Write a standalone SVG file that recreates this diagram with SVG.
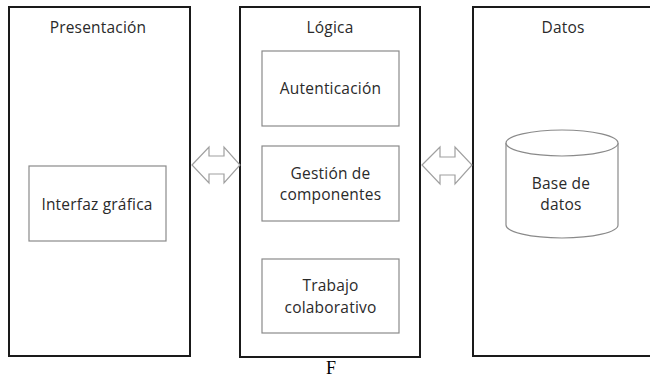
<svg xmlns="http://www.w3.org/2000/svg" width="650" height="379" viewBox="0 0 650 379">
<style>
.outer{fill:#fff;stroke:#1a1a1a;stroke-width:2}
.inner{fill:#fff;stroke:#8a8a8a;stroke-width:1.2}
.arrow{fill:#fff;stroke:#a0a0a0;stroke-width:1.2;stroke-linejoin:miter}
.t{font-family:"Open Sans","Liberation Sans",sans-serif;font-size:15.5px;letter-spacing:0.2px;fill:#2a2a2a;text-anchor:middle}
.f{font-family:"Liberation Serif",serif;font-size:18px;fill:#000;text-anchor:middle}
</style>
<rect width="650" height="379" fill="#fff"/>
<g id="presentacion">
<rect class="outer" x="9" y="7" width="181" height="349"/>
<text class="t" x="98" y="33">Presentación</text>
</g>
<g id="interfaz">
<rect class="inner" x="29" y="166" width="137" height="75"/>
<text class="t" x="97" y="210">Interfaz gráfica</text>
</g>
<g id="logica">
<rect class="outer" x="240" y="7" width="180" height="350"/>
<text class="t" x="330" y="33">Lógica</text>
</g>
<g id="autenticacion">
<rect class="inner" x="262" y="51" width="137" height="75"/>
<text class="t" x="330.5" y="94">Autenticación</text>
</g>
<g id="gestion">
<rect class="inner" x="262" y="146" width="137" height="75"/>
<text class="t" x="330.5" y="179">Gestión de</text>
<text class="t" x="330.5" y="200">componentes</text>
</g>
<g id="trabajo">
<rect class="inner" x="262" y="259" width="137" height="74"/>
<text class="t" x="330.5" y="291">Trabajo</text>
<text class="t" x="330.5" y="313">colaborativo</text>
</g>
<g id="datos">
<rect class="outer" x="473" y="7" width="182" height="349"/>
<text class="t" x="563" y="33">Datos</text>
</g>
<g id="basedatos">
<path class="inner" d="M506,143 L506,225 A56,13 0 0 0 618,225 L618,143"/>
<ellipse class="inner" cx="562" cy="143" rx="56" ry="13"/>
<text class="t" x="561" y="189">Base de</text>
<text class="t" x="561" y="210">datos</text>
</g>
<g id="connectors">
<path class="arrow" d="M192,165 L209,147 L209,156 L224,156 L224,147 L240,165 L224,183 L224,174 L209,174 L209,183 Z"/>
<path class="arrow" d="M422,165 L440,147 L440,157 L455,157 L455,147 L472,165 L455,184 L455,175 L440,175 L440,184 Z"/>
</g>
<text class="f" x="331" y="374">F</text>
</svg>
